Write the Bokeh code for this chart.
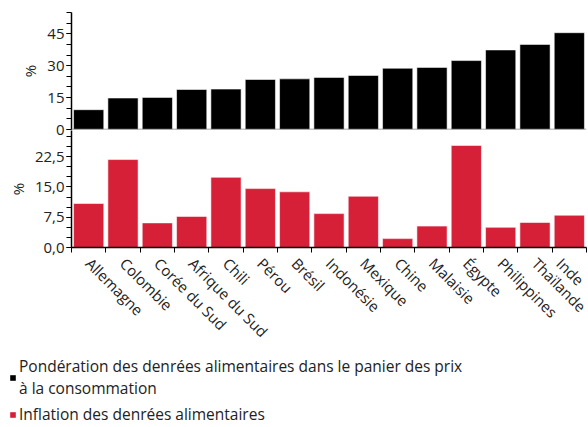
import math
from bokeh.plotting import figure
from bokeh.layouts import column
from bokeh.models import (ColumnDataSource, FixedTicker, CustomJSTickFormatter,
                          Legend, LegendItem, Span)
from bokeh.embed import file_html
from bokeh.resources import INLINE

countries = ["Allemagne", "Colombie", "Corée du Sud", "Afrique du Sud", "Chili",
             "Pérou", "Brésil", "Indonésie", "Mexique", "Chine", "Malaisie",
             "Égypte", "Philippines", "Thaïlande", "Inde"]
food_weight = [9.3, 14.8, 15.1, 18.8, 19.0, 23.5, 23.8, 24.5, 25.4, 28.8, 29.2,
               32.4, 37.4, 40.0, 45.5]
food_inflation = [10.9, 21.8, 6.1, 7.7, 17.4, 14.6, 13.8, 8.4, 12.7, 2.2, 5.3,
                  25.3, 5.0, 6.2, 8.0]
top_ticks = [0, 15, 30, 45]
bottom_ticks = [0, 7.5, 15, 22.5]
legend_weight = "Pondération des denrées alimentaires dans le panier des prix\nà la consommation"
legend_inflation = "Inflation des denrées alimentaires"

FONT = "Open Sans"
FS = "15px"
RED = "#d62038"
xs = [i + 0.5 for i in range(len(countries))]
src = ColumnDataSource(dict(x=xs, w=food_weight, inf=food_inflation, name=countries))

FW = 515
LEFT = 71
OVER = 8


def style_y(p, ticks, minor, fmt=None):
    ax = p.yaxis[0]
    ax.ticker = FixedTicker(ticks=ticks, minor_ticks=minor)
    ax.axis_label = "%"
    ax.axis_label_text_font = FONT
    ax.axis_label_text_font_size = FS
    ax.axis_label_text_font_style = "normal"
    ax.axis_label_text_color = "#222222"
    ax.axis_label_standoff = 4
    ax.major_label_text_font = FONT
    ax.major_label_text_font_size = FS
    ax.major_label_text_color = "#222222"
    ax.major_label_standoff = 2
    ax.major_tick_out = 5
    ax.major_tick_in = 0
    ax.minor_tick_out = 5
    ax.minor_tick_in = 0
    ax.axis_line_color = "black"
    ax.axis_line_width = 1.5
    if fmt is not None:
        ax.formatter = fmt


# ---- top panel ----
p1 = figure(frame_width=FW, frame_height=117, x_range=(0, 15), y_range=(0, 55),
            output_backend="svg", toolbar_location=None, x_axis_location=None,
            min_border_left=LEFT, min_border_right=2, min_border_top=12,
            min_border_bottom=OVER + 1)
p1.grid.visible = False
p1.outline_line_color = None
p1.vbar(x="x", top="w", width=0.88, source=src, fill_color="black",
        line_color="white", line_alpha=0.55, line_width=1)
style_y(p1, top_ticks, [5 * i for i in range(12)])
p1.add_layout(Span(location=0, dimension="width", line_color="#888888", line_width=1.5))

# ---- bottom panel ----
p2 = figure(frame_width=FW, frame_height=117, x_range=(0, 15), y_range=(0, 29),
            output_backend="svg", toolbar_location=None,
            min_border_left=LEFT, min_border_right=2, min_border_top=0,
            min_border_bottom=101)
p2.margin = (-OVER, 0, 0, 0)
p2.background_fill_alpha = 0
p2.border_fill_alpha = 0
p2.grid.visible = False
p2.outline_line_color = None
p2.vbar(x="x", top="inf", width=0.88, source=src, fill_color=RED,
        line_color="white", line_alpha=0.55, line_width=1)
style_y(p2, bottom_ticks, [2.5 * i for i in range(12)],
        CustomJSTickFormatter(code="return tick.toFixed(1).replace('.', ',');"))

xa = p2.xaxis[0]
xa.ticker = FixedTicker(ticks=xs, minor_ticks=list(range(16)))
xa.major_label_overrides = {x: n for x, n in zip(xs, countries)}
xa.major_label_orientation = -math.pi / 4
xa.major_label_text_font = FONT
xa.major_label_text_font_size = FS
xa.major_label_text_color = "#222222"
xa.major_label_standoff = 7
xa.major_tick_line_color = None
xa.minor_tick_out = 5
xa.minor_tick_in = 0
xa.axis_line_color = "black"
xa.axis_line_width = 1.5

# ---- legend strip (bars out of view; only the legend shows) ----
p3 = figure(width=588, height=77, x_range=(100, 101), y_range=(100, 101),
            output_backend="svg", toolbar_location=None,
            x_axis_location=None, y_axis_location=None, min_border=0,
            min_border_left=0, min_border_right=0, min_border_top=0,
            min_border_bottom=0)
p3.margin = (-5, 0, 0, 0)
p3.background_fill_alpha = 0
p3.border_fill_alpha = 0
p3.frame_align = False
p3.grid.visible = False
p3.outline_line_color = None
lg_w = p3.vbar(x="x", top="w", width=0.5, source=src, fill_color="black", line_color=None)
lg_i = p3.vbar(x="x", top="inf", width=0.5, source=src, fill_color=RED, line_color=None)

legend = Legend(items=[LegendItem(label=legend_weight, renderers=[lg_w], index=0),
                       LegendItem(label=legend_inflation, renderers=[lg_i], index=0)],
                location="top_left", orientation="vertical")
legend.label_text_font = FONT
legend.label_text_font_size = "15.5px"
legend.label_text_color = "#222222"
legend.glyph_width = 7
legend.glyph_height = 7
legend.label_standoff = 3
legend.spacing = 4
legend.padding = 0
legend.margin = 9
legend.border_line_color = None
legend.background_fill_alpha = 0
legend.label_height = 18
p3.add_layout(legend)

layout = column(p1, p2, p3, spacing=0)
open("out.html", "w").write(file_html(layout, INLINE))
